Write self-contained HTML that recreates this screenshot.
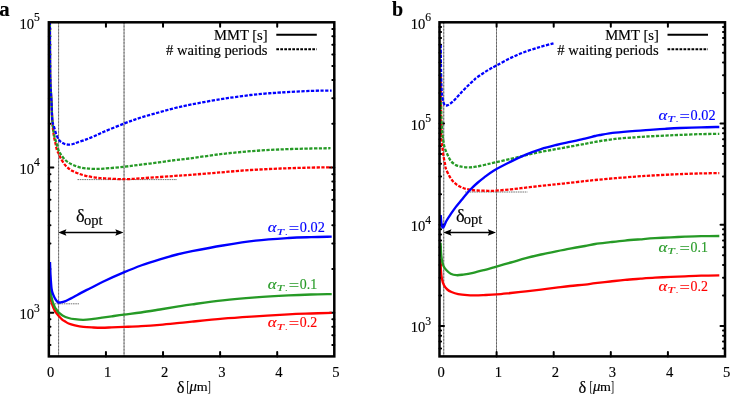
<!DOCTYPE html>
<html><head><meta charset="utf-8"><title>plot</title>
<style>html,body{margin:0;padding:0;background:#fff;}svg{display:block;will-change:transform;}text{font-family:"Liberation Serif",serif;fill:#000;stroke:#000;stroke-width:0.15px;}</style>
</head><body>
<svg width="731" height="396" viewBox="0 0 731 396">
<rect x="0" y="0" width="731" height="396" fill="#fff"/>
<line x1="58.60" y1="22.30" x2="58.60" y2="356.40" stroke="#000" stroke-opacity="0.40" stroke-width="1.00"/>
<line x1="58.60" y1="22.30" x2="58.60" y2="356.40" stroke="#000" stroke-opacity="0.35" stroke-width="1.00" stroke-dasharray="1.6 1.7"/>
<line x1="124.05" y1="22.30" x2="124.05" y2="356.40" stroke="#000" stroke-opacity="0.45" stroke-width="1.10"/>
<line x1="124.05" y1="22.30" x2="124.05" y2="356.40" stroke="#000" stroke-opacity="0.35" stroke-width="1.10" stroke-dasharray="1.6 1.7"/>
<path d="M48.85,344.90h1.60M334.30,344.90h-2.00M48.85,335.18h1.60M334.30,335.18h-2.00M48.85,326.76h1.60M334.30,326.76h-2.00M48.85,319.34h1.60M334.30,319.34h-2.00M48.85,312.69h4.50M334.30,312.69h-4.50M48.85,268.98h1.60M334.30,268.98h-2.00M48.85,243.42h1.60M334.30,243.42h-2.00M48.85,225.28h1.60M334.30,225.28h-2.00M48.85,211.20h1.60M334.30,211.20h-2.00M48.85,199.71h1.60M334.30,199.71h-2.00M48.85,189.99h1.60M334.30,189.99h-2.00M48.85,181.57h1.60M334.30,181.57h-2.00M48.85,174.14h1.60M334.30,174.14h-2.00M48.85,167.50h4.50M334.30,167.50h-4.50M48.85,123.79h1.60M334.30,123.79h-2.00M48.85,98.22h1.60M334.30,98.22h-2.00M48.85,80.08h1.60M334.30,80.08h-2.00M48.85,66.01h1.60M334.30,66.01h-2.00M48.85,54.51h1.60M334.30,54.51h-2.00M48.85,44.79h1.60M334.30,44.79h-2.00M48.85,36.37h1.60M334.30,36.37h-2.00M48.85,28.94h1.60M334.30,28.94h-2.00M105.94,356.40v-4.40M105.94,22.30v4.40M163.03,356.40v-4.40M163.03,22.30v4.40M220.12,356.40v-4.40M220.12,22.30v4.40M277.21,356.40v-4.40M277.21,22.30v4.40" stroke="#000" stroke-width="2.0" stroke-linecap="round" fill="none"/>
<line x1="443.70" y1="22.30" x2="443.70" y2="356.40" stroke="#000" stroke-opacity="0.35" stroke-width="1.20"/>
<line x1="443.70" y1="22.30" x2="443.70" y2="356.40" stroke="#000" stroke-opacity="0.35" stroke-width="1.20" stroke-dasharray="1.6 1.7"/>
<line x1="496.50" y1="22.30" x2="496.50" y2="356.40" stroke="#000" stroke-opacity="0.42" stroke-width="1.00"/>
<line x1="496.50" y1="22.30" x2="496.50" y2="356.40" stroke="#000" stroke-opacity="0.35" stroke-width="1.00" stroke-dasharray="1.6 1.7"/>
<path d="M439.50,348.39h1.60M725.00,348.39h-2.00M439.50,341.61h1.60M725.00,341.61h-2.00M439.50,335.74h1.60M725.00,335.74h-2.00M439.50,330.56h1.60M725.00,330.56h-2.00M439.50,325.93h4.50M725.00,325.93h-4.50M439.50,295.47h1.60M725.00,295.47h-2.00M439.50,277.64h1.60M725.00,277.64h-2.00M439.50,265.00h1.60M725.00,265.00h-2.00M439.50,255.19h1.60M725.00,255.19h-2.00M439.50,247.18h1.60M725.00,247.18h-2.00M439.50,240.40h1.60M725.00,240.40h-2.00M439.50,234.53h1.60M725.00,234.53h-2.00M439.50,229.35h1.60M725.00,229.35h-2.00M439.50,224.72h4.50M725.00,224.72h-4.50M439.50,194.25h1.60M725.00,194.25h-2.00M439.50,176.43h1.60M725.00,176.43h-2.00M439.50,163.79h1.60M725.00,163.79h-2.00M439.50,153.98h1.60M725.00,153.98h-2.00M439.50,145.96h1.60M725.00,145.96h-2.00M439.50,139.19h1.60M725.00,139.19h-2.00M439.50,133.32h1.60M725.00,133.32h-2.00M439.50,128.14h1.60M725.00,128.14h-2.00M439.50,123.51h4.50M725.00,123.51h-4.50M439.50,93.04h1.60M725.00,93.04h-2.00M439.50,75.22h1.60M725.00,75.22h-2.00M439.50,62.58h1.60M725.00,62.58h-2.00M439.50,52.77h1.60M725.00,52.77h-2.00M439.50,44.75h1.60M725.00,44.75h-2.00M439.50,37.98h1.60M725.00,37.98h-2.00M439.50,32.11h1.60M725.00,32.11h-2.00M439.50,26.93h1.60M725.00,26.93h-2.00M496.60,356.40v-4.40M496.60,22.30v4.40M553.70,356.40v-4.40M553.70,22.30v4.40M610.80,356.40v-4.40M610.80,22.30v4.40M667.90,356.40v-4.40M667.90,22.30v4.40" stroke="#000" stroke-width="2.0" stroke-linecap="round" fill="none"/>
<line x1="77.5" y1="179.6" x2="177" y2="179.6" stroke="#000" stroke-opacity="0.6" stroke-width="0.9" stroke-dasharray="1.6 0.7"/>
<line x1="50" y1="303.8" x2="79" y2="303.8" stroke="#000" stroke-opacity="0.6" stroke-width="0.9" stroke-dasharray="1.6 0.7"/>
<line x1="465" y1="192.0" x2="527.5" y2="192.0" stroke="#000" stroke-opacity="0.6" stroke-width="0.9" stroke-dasharray="1.6 0.7"/>
<path d="M49.90,22.00C49.92,26.67 49.93,40.33 50.00,50.00C50.07,59.67 50.07,71.67 50.30,80.00C50.53,88.33 51.07,93.33 51.40,100.00C51.73,106.67 52.05,115.28 52.30,120.00C52.55,124.72 52.62,125.53 52.90,128.30C53.18,131.07 53.57,134.07 54.00,136.60C54.43,139.13 55.02,141.27 55.50,143.50C55.98,145.73 56.32,148.22 56.90,150.00C57.48,151.78 58.37,152.82 59.00,154.20C59.63,155.58 59.73,156.57 60.70,158.30C61.67,160.03 63.42,162.86 64.80,164.60C66.18,166.34 67.60,167.64 69.00,168.75C70.40,169.86 71.53,170.42 73.20,171.25C74.87,172.08 76.92,172.99 79.00,173.75C81.08,174.51 83.20,175.21 85.70,175.80C88.20,176.39 90.95,176.88 94.00,177.30C97.05,177.72 98.92,177.98 104.00,178.30C109.08,178.62 118.33,179.20 124.50,179.20C130.67,179.20 135.32,178.65 141.00,178.30C146.68,177.95 152.93,177.50 158.60,177.10C164.27,176.70 169.77,176.27 175.00,175.90C180.23,175.53 182.45,175.48 190.00,174.90C197.55,174.32 210.20,173.22 220.30,172.40C230.40,171.58 240.50,170.65 250.60,170.00C260.70,169.35 270.80,168.90 280.90,168.50C291.00,168.10 302.75,167.80 311.20,167.60C319.65,167.40 328.20,167.35 331.60,167.30" fill="none" stroke="#ff0000" stroke-width="2.30" stroke-linejoin="round" stroke-dasharray="3.3 1.45" stroke-dashoffset="3.2"/>
<path d="M49.90,22.00C49.92,26.67 49.93,40.33 50.00,50.00C50.07,59.67 50.07,71.67 50.30,80.00C50.53,88.33 51.07,93.33 51.40,100.00C51.73,106.67 51.87,114.30 52.30,120.00C52.73,125.70 53.30,130.32 54.00,134.20C54.70,138.08 55.73,140.58 56.50,143.30C57.27,146.02 57.90,148.68 58.60,150.50C59.30,152.32 59.67,152.68 60.70,154.20C61.73,155.72 63.42,158.15 64.80,159.60C66.18,161.05 67.60,162.00 69.00,162.90C70.40,163.80 71.53,164.30 73.20,165.00C74.87,165.70 76.92,166.55 79.00,167.10C81.08,167.65 83.20,168.00 85.70,168.30C88.20,168.60 90.95,168.85 94.00,168.90C97.05,168.95 98.92,168.97 104.00,168.60C109.08,168.23 118.33,167.37 124.50,166.70C130.67,166.03 135.32,165.32 141.00,164.60C146.68,163.88 152.93,163.15 158.60,162.40C164.27,161.65 169.77,160.77 175.00,160.10C180.23,159.43 182.45,159.38 190.00,158.40C197.55,157.42 210.20,155.40 220.30,154.20C230.40,153.00 240.50,152.00 250.60,151.20C260.70,150.40 270.80,149.85 280.90,149.40C291.00,148.95 302.93,148.70 311.20,148.50C319.47,148.30 327.28,148.25 330.50,148.20" fill="none" stroke="#269a26" stroke-width="2.30" stroke-linejoin="round" stroke-dasharray="3.3 1.45" stroke-dashoffset="1.6"/>
<path d="M49.90,22.00C49.92,26.67 49.93,40.33 50.00,50.00C50.07,59.67 50.07,71.67 50.30,80.00C50.53,88.33 51.07,93.33 51.40,100.00C51.73,106.67 51.87,115.55 52.30,120.00C52.73,124.45 53.30,124.20 54.00,126.70C54.70,129.20 55.60,132.72 56.50,135.00C57.40,137.28 58.28,139.02 59.40,140.40C60.52,141.78 61.73,142.60 63.20,143.30C64.67,144.00 66.57,144.48 68.20,144.60C69.83,144.72 71.48,144.35 73.00,144.00C74.52,143.65 75.18,143.23 77.30,142.50C79.42,141.77 82.92,140.63 85.70,139.60C88.48,138.57 90.95,137.62 94.00,136.30C97.05,134.98 98.92,133.85 104.00,131.70C109.08,129.55 118.33,125.77 124.50,123.40C130.67,121.03 135.32,119.32 141.00,117.50C146.68,115.68 152.93,114.08 158.60,112.50C164.27,110.92 169.43,109.37 175.00,108.00C180.57,106.63 184.45,105.77 192.00,104.30C199.55,102.83 213.13,100.40 220.30,99.20C227.47,98.00 229.95,97.80 235.00,97.10C240.05,96.40 245.60,95.58 250.60,95.00C255.60,94.42 259.95,94.02 265.00,93.60C270.05,93.18 273.20,92.95 280.90,92.50C288.60,92.05 302.75,91.22 311.20,90.90C319.65,90.58 328.20,90.65 331.60,90.60" fill="none" stroke="#0000ff" stroke-width="2.30" stroke-linejoin="round" stroke-dasharray="3.3 1.45" stroke-dashoffset="0.0"/>
<path d="M49.90,275.00C49.95,277.50 50.00,285.75 50.20,290.00C50.40,294.25 50.60,297.63 51.10,300.50C51.60,303.37 52.43,305.25 53.20,307.20C53.97,309.15 54.73,310.68 55.70,312.20C56.67,313.72 57.87,315.03 59.00,316.30C60.13,317.57 61.53,318.98 62.50,319.80C63.47,320.62 63.78,320.58 64.80,321.20C65.82,321.82 66.93,322.82 68.60,323.50C70.27,324.18 72.33,324.73 74.80,325.30C77.27,325.87 80.32,326.53 83.40,326.90C86.48,327.27 90.22,327.37 93.30,327.50C96.38,327.63 98.83,327.72 101.90,327.70C104.97,327.68 108.02,327.53 111.70,327.40C115.38,327.27 119.12,327.12 124.00,326.90C128.88,326.68 135.02,326.45 141.00,326.10C146.98,325.75 153.90,325.28 159.90,324.80C165.90,324.32 171.65,323.73 177.00,323.20C182.35,322.67 184.37,322.35 192.00,321.60C199.63,320.85 212.20,319.57 222.80,318.70C233.40,317.83 244.65,317.12 255.60,316.40C266.55,315.68 279.27,314.88 288.50,314.40C297.73,313.92 303.80,313.77 311.00,313.50C318.20,313.23 328.25,312.92 331.70,312.80" fill="none" stroke="#ff0000" stroke-width="2.35" stroke-linejoin="round"/>
<path d="M49.90,270.00C49.90,273.00 49.50,282.92 49.90,288.00C50.30,293.08 51.48,297.30 52.30,300.50C53.12,303.70 54.13,305.75 54.80,307.20C55.47,308.65 55.73,308.37 56.30,309.20C56.87,310.03 57.17,311.17 58.20,312.20C59.23,313.23 60.77,314.43 62.50,315.40C64.23,316.37 66.55,317.37 68.60,318.00C70.65,318.63 72.33,318.90 74.80,319.20C77.27,319.50 80.32,319.85 83.40,319.80C86.48,319.75 90.22,319.25 93.30,318.90C96.38,318.55 98.83,318.13 101.90,317.70C104.97,317.27 108.02,316.82 111.70,316.30C115.38,315.78 119.12,315.23 124.00,314.60C128.88,313.97 135.02,313.35 141.00,312.50C146.98,311.65 153.90,310.47 159.90,309.50C165.90,308.53 171.65,307.55 177.00,306.70C182.35,305.85 184.37,305.47 192.00,304.40C199.63,303.33 212.20,301.47 222.80,300.30C233.40,299.13 244.65,298.22 255.60,297.40C266.55,296.58 279.27,295.88 288.50,295.40C297.73,294.92 303.80,294.72 311.00,294.50C318.20,294.28 328.25,294.17 331.70,294.10" fill="none" stroke="#269a26" stroke-width="2.35" stroke-linejoin="round"/>
<path d="M50.00,262.00C50.08,264.17 50.23,270.50 50.50,275.00C50.77,279.50 51.15,285.72 51.60,289.00C52.05,292.28 52.52,292.92 53.20,294.70C53.88,296.48 54.98,298.52 55.70,299.70C56.42,300.88 56.95,301.33 57.50,301.80C58.05,302.27 58.42,302.42 59.00,302.50C59.58,302.58 60.03,302.50 61.00,302.30C61.97,302.10 62.77,302.15 64.80,301.30C66.83,300.45 70.42,298.65 73.20,297.20C75.98,295.75 78.58,294.13 81.50,292.60C84.42,291.07 86.95,289.90 90.70,288.00C94.45,286.10 98.48,283.80 104.00,281.20C109.52,278.60 117.63,275.02 123.80,272.40C129.97,269.78 134.98,267.68 141.00,265.50C147.02,263.32 153.90,261.13 159.90,259.30C165.90,257.47 171.65,255.85 177.00,254.50C182.35,253.15 184.37,252.70 192.00,251.20C199.63,249.70 212.20,247.27 222.80,245.50C233.40,243.73 244.65,241.85 255.60,240.60C266.55,239.35 279.27,238.58 288.50,238.00C297.73,237.42 303.80,237.32 311.00,237.10C318.20,236.88 328.25,236.77 331.70,236.70" fill="none" stroke="#0000ff" stroke-width="2.35" stroke-linejoin="round"/>
<path d="M440.90,75.00C440.92,79.17 440.97,91.67 441.00,100.00C441.03,108.33 441.02,118.33 441.10,125.00C441.18,131.67 441.30,136.38 441.50,140.00C441.70,143.62 441.95,143.92 442.30,146.70C442.65,149.48 443.11,153.65 443.60,156.70C444.09,159.75 444.90,163.12 445.25,165.00C445.60,166.88 445.21,166.53 445.70,168.00C446.19,169.47 447.10,171.72 448.20,173.80C449.30,175.88 450.78,178.62 452.30,180.50C453.82,182.38 455.48,183.85 457.30,185.10C459.12,186.35 461.12,187.23 463.20,188.00C465.28,188.77 467.45,189.28 469.80,189.70C472.15,190.12 474.65,190.32 477.30,190.50C479.95,190.68 482.92,190.70 485.70,190.75C488.48,190.80 489.82,191.04 494.00,190.80C498.18,190.56 505.48,189.83 510.80,189.30C516.12,188.77 520.87,188.17 525.90,187.60C530.93,187.03 535.95,186.45 541.00,185.90C546.05,185.35 551.37,184.82 556.20,184.30C561.03,183.78 565.20,183.33 570.00,182.80C574.80,182.27 580.80,181.57 585.00,181.10C589.20,180.63 590.15,180.48 595.20,180.00C600.25,179.52 608.58,178.77 615.30,178.20C622.02,177.63 629.72,177.03 635.50,176.60C641.28,176.17 645.08,175.90 650.00,175.60C654.92,175.30 660.00,175.05 665.00,174.80C670.00,174.55 673.97,174.33 680.00,174.10C686.03,173.87 694.65,173.57 701.20,173.40C707.75,173.23 716.28,173.15 719.30,173.10" fill="none" stroke="#ff0000" stroke-width="2.30" stroke-linejoin="round" stroke-dasharray="3.3 1.45" stroke-dashoffset="3.2"/>
<path d="M440.90,70.00C440.92,74.17 440.95,88.00 441.00,95.00C441.05,102.00 441.03,106.17 441.20,112.00C441.37,117.83 441.74,125.83 442.00,130.00C442.26,134.17 442.55,135.33 442.75,137.00C442.95,138.67 442.93,138.38 443.20,140.00C443.47,141.62 443.78,144.48 444.40,146.70C445.02,148.92 445.85,150.95 446.90,153.30C447.95,155.65 449.23,158.85 450.70,160.80C452.17,162.75 454.15,164.07 455.70,165.00C457.25,165.93 458.62,166.05 460.00,166.40C461.38,166.75 462.37,166.93 464.00,167.10C465.63,167.27 467.85,167.47 469.80,167.40C471.75,167.33 473.33,167.10 475.70,166.70C478.07,166.30 480.95,165.67 484.00,165.00C487.05,164.33 489.53,163.72 494.00,162.70C498.47,161.68 505.48,160.15 510.80,158.90C516.12,157.65 520.87,156.37 525.90,155.20C530.93,154.03 535.95,152.92 541.00,151.90C546.05,150.88 551.37,149.98 556.20,149.10C561.03,148.22 565.20,147.48 570.00,146.60C574.80,145.72 580.80,144.58 585.00,143.80C589.20,143.02 590.15,142.72 595.20,141.90C600.25,141.08 608.58,139.67 615.30,138.90C622.02,138.13 629.72,137.73 635.50,137.30C641.28,136.87 645.08,136.58 650.00,136.30C654.92,136.02 660.00,135.83 665.00,135.60C670.00,135.37 673.97,135.15 680.00,134.90C686.03,134.65 694.65,134.27 701.20,134.10C707.75,133.93 716.28,133.93 719.30,133.90" fill="none" stroke="#269a26" stroke-width="2.30" stroke-linejoin="round" stroke-dasharray="3.3 1.45" stroke-dashoffset="1.6"/>
<path d="M440.70,45.00C440.73,47.83 440.82,56.17 440.90,62.00C440.98,67.83 441.08,75.33 441.20,80.00C441.32,84.67 441.42,87.22 441.60,90.00C441.78,92.78 441.98,94.62 442.30,96.70C442.62,98.78 443.01,101.05 443.50,102.50C443.99,103.95 444.62,104.93 445.25,105.40C445.88,105.87 446.61,105.48 447.30,105.30C447.99,105.12 448.42,104.97 449.40,104.30C450.38,103.62 451.60,102.80 453.20,101.25C454.80,99.70 456.78,97.36 459.00,95.00C461.22,92.64 464.00,89.60 466.50,87.10C469.00,84.60 472.25,81.60 474.00,80.00C475.75,78.40 475.42,78.67 477.00,77.50C478.58,76.33 481.33,74.42 483.50,73.00C485.67,71.58 487.83,70.25 490.00,69.00C492.17,67.75 493.03,67.35 496.50,65.50C499.97,63.65 505.90,60.23 510.80,57.90C515.70,55.57 520.87,53.37 525.90,51.50C530.93,49.63 536.40,48.07 541.00,46.70C545.60,45.33 551.42,43.87 553.50,43.30" fill="none" stroke="#0000ff" stroke-width="2.30" stroke-linejoin="round" stroke-dasharray="3.3 1.45" stroke-dashoffset="0.0"/>
<path d="M440.50,259.00C440.57,260.83 440.67,266.72 440.90,270.00C441.13,273.28 441.38,276.15 441.90,278.70C442.42,281.25 443.10,283.50 444.00,285.30C444.90,287.10 446.05,288.38 447.30,289.50C448.55,290.62 449.68,291.23 451.50,292.00C453.32,292.77 455.57,293.57 458.20,294.10C460.83,294.63 464.50,294.98 467.30,295.20C470.10,295.42 472.30,295.42 475.00,295.40C477.70,295.38 479.92,295.27 483.50,295.10C487.08,294.93 491.95,294.75 496.50,294.40C501.05,294.05 505.90,293.50 510.80,293.00C515.70,292.50 520.87,291.97 525.90,291.40C530.93,290.83 535.95,290.22 541.00,289.60C546.05,288.98 551.37,288.30 556.20,287.70C561.03,287.10 565.20,286.52 570.00,286.00C574.80,285.48 580.80,285.07 585.00,284.60C589.20,284.13 590.98,283.72 595.20,283.20C599.42,282.68 605.33,282.05 610.30,281.50C615.27,280.95 619.95,280.37 625.00,279.90C630.05,279.43 635.60,279.07 640.60,278.70C645.60,278.33 649.95,278.00 655.00,277.70C660.05,277.40 665.90,277.13 670.90,276.90C675.90,276.67 679.95,276.50 685.00,276.30C690.05,276.10 695.48,275.85 701.20,275.70C706.92,275.55 716.28,275.45 719.30,275.40" fill="none" stroke="#ff0000" stroke-width="2.35" stroke-linejoin="round"/>
<path d="M440.60,242.80C440.67,244.33 440.83,249.47 441.00,252.00C441.17,254.53 441.38,256.33 441.60,258.00C441.82,259.67 441.97,260.63 442.30,262.00C442.63,263.37 442.90,264.82 443.60,266.20C444.30,267.58 445.32,269.05 446.50,270.30C447.68,271.55 449.03,272.88 450.70,273.70C452.37,274.52 454.42,275.05 456.50,275.20C458.58,275.35 460.42,275.00 463.20,274.60C465.98,274.20 469.73,273.55 473.20,272.80C476.67,272.05 480.53,271.02 484.00,270.10C487.47,269.18 489.53,268.57 494.00,267.30C498.47,266.03 505.48,264.03 510.80,262.50C516.12,260.97 520.87,259.43 525.90,258.10C530.93,256.77 535.95,255.63 541.00,254.50C546.05,253.37 551.37,252.28 556.20,251.30C561.03,250.32 565.20,249.48 570.00,248.60C574.80,247.72 580.80,246.77 585.00,246.00C589.20,245.23 590.98,244.63 595.20,244.00C599.42,243.37 605.33,242.77 610.30,242.20C615.27,241.63 619.95,241.08 625.00,240.60C630.05,240.12 635.60,239.70 640.60,239.30C645.60,238.90 649.95,238.53 655.00,238.20C660.05,237.87 665.90,237.55 670.90,237.30C675.90,237.05 679.95,236.88 685.00,236.70C690.05,236.52 695.48,236.32 701.20,236.20C706.92,236.08 716.28,236.03 719.30,236.00" fill="none" stroke="#269a26" stroke-width="2.35" stroke-linejoin="round"/>
<path d="M440.70,215.00C440.80,216.25 441.08,220.62 441.30,222.50C441.52,224.38 441.73,225.47 442.00,226.30C442.27,227.13 442.58,227.47 442.90,227.50C443.22,227.53 443.30,227.62 443.90,226.50C444.50,225.38 445.37,222.85 446.50,220.80C447.63,218.75 449.17,216.48 450.70,214.20C452.23,211.92 454.03,209.30 455.70,207.10C457.37,204.90 458.77,203.35 460.70,201.00C462.63,198.65 465.63,194.96 467.30,193.00C468.97,191.04 469.03,190.92 470.70,189.25C472.37,187.58 475.08,184.94 477.30,183.00C479.52,181.06 481.22,179.68 484.00,177.60C486.78,175.52 489.53,173.17 494.00,170.50C498.47,167.83 505.48,164.25 510.80,161.60C516.12,158.95 520.87,156.68 525.90,154.60C530.93,152.52 535.95,150.70 541.00,149.10C546.05,147.50 551.37,146.20 556.20,145.00C561.03,143.80 565.20,142.95 570.00,141.90C574.80,140.85 580.80,139.68 585.00,138.70C589.20,137.72 592.70,136.62 595.20,136.00C597.70,135.38 596.65,135.55 600.00,135.00C603.35,134.45 609.38,133.40 615.30,132.70C621.22,132.00 629.72,131.28 635.50,130.80C641.28,130.32 645.08,130.13 650.00,129.80C654.92,129.47 660.00,129.10 665.00,128.80C670.00,128.50 673.97,128.25 680.00,128.00C686.03,127.75 694.65,127.47 701.20,127.30C707.75,127.13 716.28,127.05 719.30,127.00" fill="none" stroke="#0000ff" stroke-width="2.35" stroke-linejoin="round"/>
<rect x="48.85" y="22.30" width="285.45" height="334.10" fill="none" stroke="#000" stroke-width="2.5"/>
<rect x="439.50" y="22.30" width="285.50" height="334.10" fill="none" stroke="#000" stroke-width="2.5"/>
<text x="267.60" y="40.3" font-size="14.6" text-anchor="end">MMT [s]</text>
<text x="267.40" y="54.6" font-size="14.6" text-anchor="end"># waiting periods</text>
<line x1="276.30" y1="34.8" x2="316.80" y2="34.8" stroke="#000" stroke-width="2"/>
<line x1="276.30" y1="49.3" x2="316.80" y2="49.3" stroke="#000" stroke-width="2" stroke-dasharray="2.7 1.3"/>
<text x="658.80" y="40.3" font-size="14.6" text-anchor="end">MMT [s]</text>
<text x="658.60" y="54.6" font-size="14.6" text-anchor="end"># waiting periods</text>
<line x1="667.50" y1="34.8" x2="708.00" y2="34.8" stroke="#000" stroke-width="2"/>
<line x1="667.50" y1="49.3" x2="708.00" y2="49.3" stroke="#000" stroke-width="2" stroke-dasharray="2.7 1.3"/>
<text x="34.00" y="318.99" font-size="14.6" text-anchor="end">10</text>
<text x="33.90" y="311.59" font-size="11.6" text-anchor="start">3</text>
<text x="34.00" y="173.80" font-size="14.6" text-anchor="end">10</text>
<text x="33.90" y="166.40" font-size="11.6" text-anchor="start">4</text>
<text x="34.00" y="28.60" font-size="14.6" text-anchor="end">10</text>
<text x="33.90" y="21.20" font-size="11.6" text-anchor="start">5</text>
<text x="425.30" y="332.23" font-size="14.6" text-anchor="end">10</text>
<text x="425.20" y="324.83" font-size="11.6" text-anchor="start">3</text>
<text x="425.30" y="231.02" font-size="14.6" text-anchor="end">10</text>
<text x="425.20" y="223.62" font-size="11.6" text-anchor="start">4</text>
<text x="425.30" y="129.81" font-size="14.6" text-anchor="end">10</text>
<text x="425.20" y="122.41" font-size="11.6" text-anchor="start">5</text>
<text x="425.30" y="28.60" font-size="14.6" text-anchor="end">10</text>
<text x="425.20" y="21.20" font-size="11.6" text-anchor="start">6</text>
<text x="50.55" y="376.8" font-size="14.6" text-anchor="middle">0</text>
<text x="107.64" y="376.8" font-size="14.6" text-anchor="middle">1</text>
<text x="164.73" y="376.8" font-size="14.6" text-anchor="middle">2</text>
<text x="221.82" y="376.8" font-size="14.6" text-anchor="middle">3</text>
<text x="278.91" y="376.8" font-size="14.6" text-anchor="middle">4</text>
<text x="336.00" y="376.8" font-size="14.6" text-anchor="middle">5</text>
<text x="441.20" y="376.8" font-size="14.6" text-anchor="middle">0</text>
<text x="498.30" y="376.8" font-size="14.6" text-anchor="middle">1</text>
<text x="555.40" y="376.8" font-size="14.6" text-anchor="middle">2</text>
<text x="612.50" y="376.8" font-size="14.6" text-anchor="middle">3</text>
<text x="669.60" y="376.8" font-size="14.6" text-anchor="middle">4</text>
<text x="726.70" y="376.8" font-size="14.6" text-anchor="middle">5</text>
<text x="176.80" y="392.6" font-size="16.4" text-anchor="start">δ</text>
<text x="186.20" y="391.0" font-size="14.4" style="stroke-width:0" textLength="3.4" lengthAdjust="spacingAndGlyphs">[</text>
<text x="189.60" y="391.1" font-size="14" font-style="italic" textLength="7.4" lengthAdjust="spacingAndGlyphs">μ</text>
<text x="196.70" y="391.1" font-size="13.4" textLength="10.9" lengthAdjust="spacingAndGlyphs">m</text>
<text x="207.50" y="391.0" font-size="14.4" style="stroke-width:0" textLength="3.4" lengthAdjust="spacingAndGlyphs">]</text>
<text x="578.40" y="392.6" font-size="16.4" text-anchor="start">δ</text>
<text x="589.50" y="391.0" font-size="14.4" style="stroke-width:0" textLength="3.4" lengthAdjust="spacingAndGlyphs">[</text>
<text x="592.90" y="391.1" font-size="14" font-style="italic" textLength="7.4" lengthAdjust="spacingAndGlyphs">μ</text>
<text x="600.00" y="391.1" font-size="13.4" textLength="10.9" lengthAdjust="spacingAndGlyphs">m</text>
<text x="610.80" y="391.0" font-size="14.4" style="stroke-width:0" textLength="3.4" lengthAdjust="spacingAndGlyphs">]</text>
<text x="-0.7" y="15.6" font-size="20.8" font-weight="bold">a</text>
<text x="392" y="15.6" font-size="20" font-weight="bold">b</text>
<line x1="61.20" y1="232.50" x2="120.50" y2="232.50" stroke="#000" stroke-width="1.4"/>
<path d="M58.20,232.50l8.2,-3.2l-1.4,3.2l1.4,3.2z M123.50,232.50l-8.2,-3.2l1.4,3.2l-1.4,3.2z" fill="#000"/>
<line x1="446.30" y1="232.50" x2="493.00" y2="232.50" stroke="#000" stroke-width="1.4"/>
<path d="M443.30,232.50l8.2,-3.2l-1.4,3.2l1.4,3.2z M496.00,232.50l-8.2,-3.2l1.4,3.2l-1.4,3.2z" fill="#000"/>
<text x="76.00" y="222.30" font-size="18.4" text-anchor="start">δ</text>
<text x="83.90" y="225.00" font-size="14.5" text-anchor="start">opt</text>
<text x="455.90" y="222.30" font-size="18.4" text-anchor="start">δ</text>
<text x="463.80" y="224.20" font-size="14.5" text-anchor="start">opt</text>
<text x="267.70" y="232.20" font-size="15.5" font-style="italic" style="fill:#0000ff;stroke:#0000ff;stroke-width:0.15" textLength="8.8" lengthAdjust="spacingAndGlyphs">α</text>
<text x="276.80" y="234.60" font-size="9.2" font-style="italic" style="fill:#0000ff;stroke:#0000ff;stroke-width:0.15" textLength="7.2" lengthAdjust="spacingAndGlyphs">T</text>
<text x="285.20" y="234.60" font-size="8.6" style="fill:#0000ff;stroke:#0000ff;stroke-width:0.15">.</text>
<text x="288.70" y="233.40" font-size="14.6" style="fill:#0000ff;stroke:#0000ff;stroke-width:0.15" textLength="10.4" lengthAdjust="spacingAndGlyphs">=</text>
<text x="299.80" y="232.20" font-size="14.6" style="fill:#0000ff;stroke:#0000ff;stroke-width:0.15" textLength="25.0" lengthAdjust="spacingAndGlyphs">0.02</text>
<text x="267.70" y="288.50" font-size="15.5" font-style="italic" style="fill:#269a26;stroke:#269a26;stroke-width:0.15" textLength="8.8" lengthAdjust="spacingAndGlyphs">α</text>
<text x="276.80" y="290.90" font-size="9.2" font-style="italic" style="fill:#269a26;stroke:#269a26;stroke-width:0.15" textLength="7.2" lengthAdjust="spacingAndGlyphs">T</text>
<text x="285.20" y="290.90" font-size="8.6" style="fill:#269a26;stroke:#269a26;stroke-width:0.15">.</text>
<text x="288.70" y="289.70" font-size="14.6" style="fill:#269a26;stroke:#269a26;stroke-width:0.15" textLength="10.4" lengthAdjust="spacingAndGlyphs">=</text>
<text x="299.80" y="288.50" font-size="14.6" style="fill:#269a26;stroke:#269a26;stroke-width:0.15" textLength="17.4" lengthAdjust="spacingAndGlyphs">0.1</text>
<text x="267.70" y="327.10" font-size="15.5" font-style="italic" style="fill:#ff0000;stroke:#ff0000;stroke-width:0.15" textLength="8.8" lengthAdjust="spacingAndGlyphs">α</text>
<text x="276.80" y="329.50" font-size="9.2" font-style="italic" style="fill:#ff0000;stroke:#ff0000;stroke-width:0.15" textLength="7.2" lengthAdjust="spacingAndGlyphs">T</text>
<text x="285.20" y="329.50" font-size="8.6" style="fill:#ff0000;stroke:#ff0000;stroke-width:0.15">.</text>
<text x="288.70" y="328.30" font-size="14.6" style="fill:#ff0000;stroke:#ff0000;stroke-width:0.15" textLength="10.4" lengthAdjust="spacingAndGlyphs">=</text>
<text x="299.80" y="327.10" font-size="14.6" style="fill:#ff0000;stroke:#ff0000;stroke-width:0.15" textLength="17.4" lengthAdjust="spacingAndGlyphs">0.2</text>
<text x="658.50" y="119.80" font-size="15.5" font-style="italic" style="fill:#0000ff;stroke:#0000ff;stroke-width:0.15" textLength="8.8" lengthAdjust="spacingAndGlyphs">α</text>
<text x="667.60" y="122.20" font-size="9.2" font-style="italic" style="fill:#0000ff;stroke:#0000ff;stroke-width:0.15" textLength="7.2" lengthAdjust="spacingAndGlyphs">T</text>
<text x="676.00" y="122.20" font-size="8.6" style="fill:#0000ff;stroke:#0000ff;stroke-width:0.15">.</text>
<text x="679.50" y="121.00" font-size="14.6" style="fill:#0000ff;stroke:#0000ff;stroke-width:0.15" textLength="10.4" lengthAdjust="spacingAndGlyphs">=</text>
<text x="690.60" y="119.80" font-size="14.6" style="fill:#0000ff;stroke:#0000ff;stroke-width:0.15" textLength="25.0" lengthAdjust="spacingAndGlyphs">0.02</text>
<text x="658.50" y="252.00" font-size="15.5" font-style="italic" style="fill:#269a26;stroke:#269a26;stroke-width:0.15" textLength="8.8" lengthAdjust="spacingAndGlyphs">α</text>
<text x="667.60" y="254.40" font-size="9.2" font-style="italic" style="fill:#269a26;stroke:#269a26;stroke-width:0.15" textLength="7.2" lengthAdjust="spacingAndGlyphs">T</text>
<text x="676.00" y="254.40" font-size="8.6" style="fill:#269a26;stroke:#269a26;stroke-width:0.15">.</text>
<text x="679.50" y="253.20" font-size="14.6" style="fill:#269a26;stroke:#269a26;stroke-width:0.15" textLength="10.4" lengthAdjust="spacingAndGlyphs">=</text>
<text x="690.60" y="252.00" font-size="14.6" style="fill:#269a26;stroke:#269a26;stroke-width:0.15" textLength="17.4" lengthAdjust="spacingAndGlyphs">0.1</text>
<text x="658.50" y="290.80" font-size="15.5" font-style="italic" style="fill:#ff0000;stroke:#ff0000;stroke-width:0.15" textLength="8.8" lengthAdjust="spacingAndGlyphs">α</text>
<text x="667.60" y="293.20" font-size="9.2" font-style="italic" style="fill:#ff0000;stroke:#ff0000;stroke-width:0.15" textLength="7.2" lengthAdjust="spacingAndGlyphs">T</text>
<text x="676.00" y="293.20" font-size="8.6" style="fill:#ff0000;stroke:#ff0000;stroke-width:0.15">.</text>
<text x="679.50" y="292.00" font-size="14.6" style="fill:#ff0000;stroke:#ff0000;stroke-width:0.15" textLength="10.4" lengthAdjust="spacingAndGlyphs">=</text>
<text x="690.60" y="290.80" font-size="14.6" style="fill:#ff0000;stroke:#ff0000;stroke-width:0.15" textLength="17.4" lengthAdjust="spacingAndGlyphs">0.2</text>
</svg></body></html>
